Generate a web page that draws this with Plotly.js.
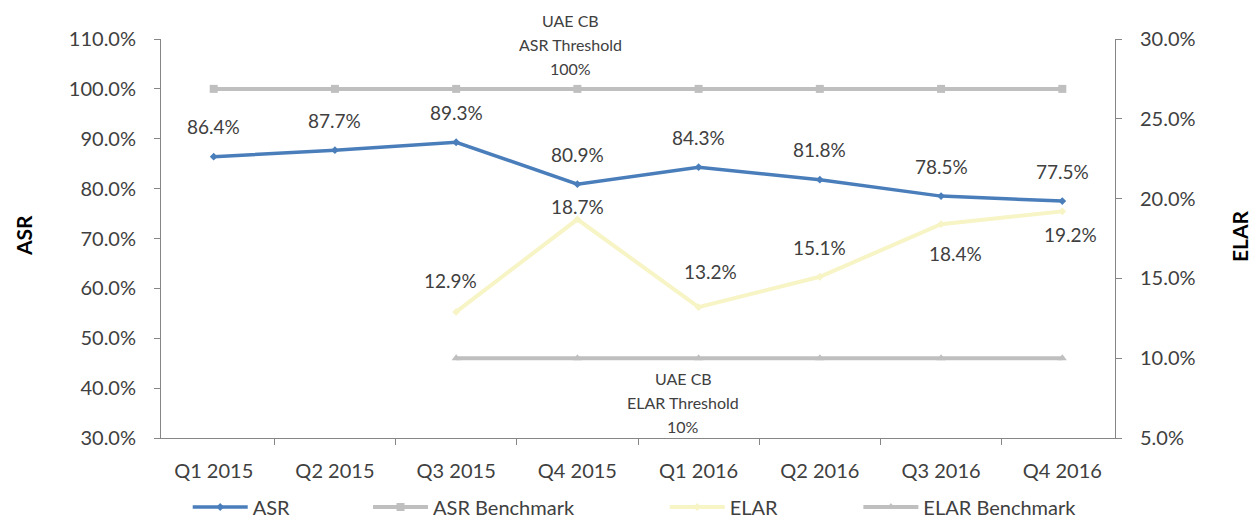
<!DOCTYPE html>
<html>
<head>
<meta charset="utf-8">
<script src="https://cdn.plot.ly/plotly-3.0.1.min.js"></script>
<style>html,body{margin:0;padding:0;background:#fff;}#chart{width:1254px;height:519px;}</style>
</head>
<body>
<div id="chart"></div>
<script>
const quarters = ['Q1 2015','Q2 2015','Q3 2015','Q4 2015','Q1 2016','Q2 2016','Q3 2016','Q4 2016'];
const asr = [86.4, 87.7, 89.3, 80.9, 84.3, 81.8, 78.5, 77.5];
const asrBenchmark = [100, 100, 100, 100, 100, 100, 100, 100];
const elar = [null, null, 12.9, 18.7, 13.2, 15.1, 18.4, 19.2];
const elarBenchmark = [null, null, 10, 10, 10, 10, 10, 10];
const asrThresholdLines = ['UAE CB', 'ASR Threshold', '100%'];
const elarThresholdLines = ['UAE CB', 'ELAR Threshold', '10%'];

const FONT = 'Lato, "Open Sans", sans-serif';
const TXT = '#404040';
const AX = '#868686';

const traces = [
  {x: quarters, y: asr, name: 'ASR', type: 'scatter', mode: 'lines+markers',
   line: {color: '#4a7ebb', width: 3.5}, marker: {symbol: 'diamond', size: 6, color: '#4a7ebb'},
   legend: 'legend', hoverinfo: 'skip'},
  {x: quarters, y: asrBenchmark, name: 'ASR Benchmark', type: 'scatter', mode: 'lines+markers',
   line: {color: '#bfbfbf', width: 4}, marker: {symbol: 'square', size: 8, color: '#bfbfbf'},
   legend: 'legend2', hoverinfo: 'skip'},
  {x: quarters, y: elar, name: 'ELAR', type: 'scatter', mode: 'lines+markers', yaxis: 'y2',
   line: {color: '#f7f4c6', width: 4}, marker: {symbol: 'diamond', size: 6, color: '#f7f4c6'},
   legend: 'legend3', hoverinfo: 'skip', connectgaps: false},
  {x: quarters, y: elarBenchmark, name: 'ELAR Benchmark', type: 'scatter', mode: 'lines+markers', yaxis: 'y2',
   line: {color: '#bfbfbf', width: 4}, marker: {symbol: 'triangle-up', size: 8, color: '#bfbfbf'},
   legend: 'legend4', hoverinfo: 'skip'}
];

const annotations = [];
// ASR data labels (above points)
asr.forEach((v, i) => {
  annotations.push({x: quarters[i], y: v, xref: 'x', yref: 'y', text: v.toFixed(1) + '%',
    showarrow: false, yshift: 30, font: {family: FONT, size: 19, color: TXT}});
});
// ELAR data labels
const elarShift = [0, 0, 31, 13, 36, 29, -29, -23];
const elarXShift = [0, 0, -6, 0, 12, 0, 14, 8];
elar.forEach((v, i) => {
  if (v === null) return;
  annotations.push({x: quarters[i], y: v, xref: 'x', yref: 'y2', text: v.toFixed(1) + '%',
    showarrow: false, yshift: elarShift[i], xshift: elarXShift[i], font: {family: FONT, size: 19, color: TXT}});
});
// Threshold labels
const asrThY = [21, 44, 68];
asrThresholdLines.forEach((t, i) => {
  annotations.push({x: (570-161)/954, y: (438-asrThY[i])/399, xref: 'paper', yref: 'paper', text: t,
    xanchor: 'center', yanchor: 'middle', showarrow: false, font: {family: FONT, size: 16, color: TXT}});
});
const elarThY = [378, 402, 426];
elarThresholdLines.forEach((t, i) => {
  annotations.push({x: (683-161)/954, y: (438-elarThY[i])/399, xref: 'paper', yref: 'paper', text: t,
    xanchor: 'center', yanchor: 'middle', showarrow: false, font: {family: FONT, size: 16, color: TXT}});
});
// Axis titles
annotations.push({x: (23-161)/954, y: (438-236)/399, xref: 'paper', yref: 'paper', text: '<b>ASR</b>',
  xanchor: 'center', yanchor: 'middle', textangle: -90, showarrow: false, font: {family: FONT, size: 21, color: '#000'}});
annotations.push({x: (1239-161)/954, y: (438-236)/399, xref: 'paper', yref: 'paper', text: '<b>ELAR</b>',
  xanchor: 'center', yanchor: 'middle', textangle: -90, showarrow: false, font: {family: FONT, size: 21, color: '#000'}});

const legendBase = {orientation: 'h', yref: 'container', y: (519-507)/519, yanchor: 'middle', xanchor: 'left',
  font: {family: FONT, size: 20, color: TXT}, bgcolor: 'rgba(0,0,0,0)', itemwidth: 55, borderwidth: 0};

const layout = {
  width: 1254, height: 519,
  margin: {l: 161, r: 139, t: 39, b: 81, autoexpand: false},
  paper_bgcolor: '#fff', plot_bgcolor: '#fff',
  font: {family: FONT, color: TXT},
  showlegend: true,
  xaxis: {type: 'category', showgrid: false, zeroline: false, showline: true, linecolor: AX, linewidth: 1,
    ticks: 'outside', tickson: 'boundaries', ticklen: 6, tickcolor: AX, ticklabelstandoff: 15,
    tickfont: {family: FONT, size: 20, color: TXT}, fixedrange: true, automargin: false},
  yaxis: {range: [30, 110], dtick: 10, tickformat: '.1f', ticksuffix: '%', showgrid: false, zeroline: false,
    showline: true, linecolor: AX, linewidth: 1, ticks: 'outside', ticklen: 6, tickcolor: AX, automargin: false,
    ticklabelstandoff: 14, tickfont: {family: FONT, size: 20, color: TXT}},
  yaxis2: {range: [5, 30], dtick: 5, tickformat: '.1f', ticksuffix: '%', overlaying: 'y', side: 'right',
    showgrid: false, zeroline: false, showline: true, linecolor: AX, linewidth: 1, ticks: 'outside', automargin: false,
    ticklen: 6, tickcolor: AX, ticklabelstandoff: 14, tickfont: {family: FONT, size: 20, color: TXT}},
  legend: Object.assign({}, legendBase, {x: 0.028}),
  legend2: Object.assign({}, legendBase, {x: 0.217}),
  legend3: Object.assign({}, legendBase, {x: 0.528}),
  legend4: Object.assign({}, legendBase, {x: 0.731}),
  annotations: annotations
};

Plotly.newPlot('chart', traces, layout, {displayModeBar: false, staticPlot: true});
</script>
</body>
</html>
